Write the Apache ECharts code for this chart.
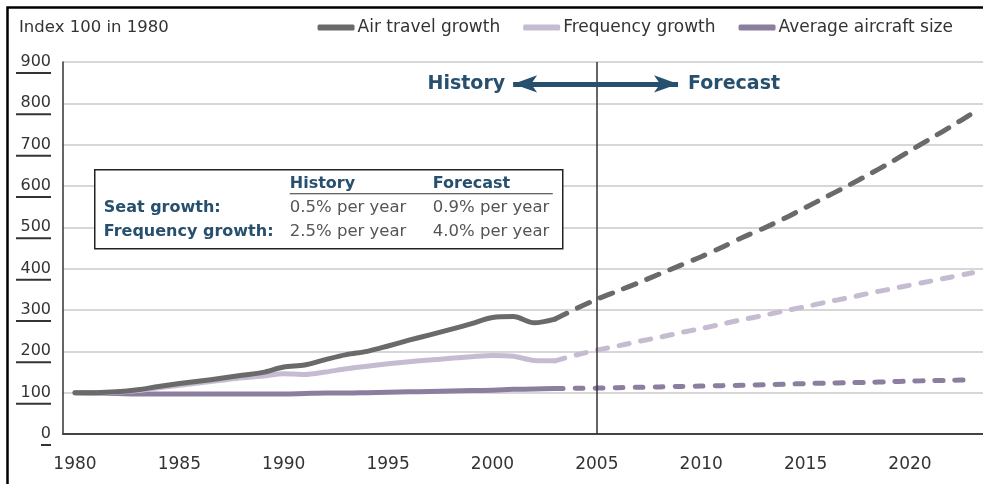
<!DOCTYPE html>
<html>
<head>
<meta charset="utf-8">
<script src="https://cdn.jsdelivr.net/npm/echarts@6/dist/echarts.min.js"></script>
<style>
  html, body { margin: 0; padding: 0; background: #fff; }
  #chart { width: 983px; height: 484px; }
</style>
</head>
<body>
<div id="chart"></div>
<script>
// history, 1980-2003 (index 100 in 1980)
const histYears = [1980, 1981, 1982, 1983, 1984, 1985, 1986, 1987, 1988, 1989, 1990, 1991,
  1992, 1993, 1994, 1995, 1996, 1997, 1998, 1999, 2000, 2001, 2002, 2003]
const airHist = [100, 100, 102, 107, 115, 122, 128, 135, 142, 149, 162, 167,
  180, 192, 200, 213, 227, 240, 253, 267, 282, 284, 269, 278]
const freqHist = [100, 100, 101, 105, 112, 118, 124, 130, 136, 140, 146, 144,
  150, 158, 164, 170, 175, 179, 183, 187, 190, 188, 178, 177]
const sizeHist = [100, 99, 98, 97, 97, 97, 97, 97, 97, 97, 97, 98,
  99, 99, 100, 101, 102, 103, 104, 105, 106, 108, 109, 110]

// forecast, 2003-2023
const fcYears = [2003, 2004, 2005, 2006, 2007, 2008, 2009, 2010, 2011, 2012, 2013,
  2014, 2015, 2016, 2017, 2018, 2019, 2020, 2021, 2022, 2023]
const airFcst = [278, 303, 326, 346, 366, 387, 408, 429, 452, 476, 498,
  522, 548, 574, 600, 627, 655, 685, 715, 745, 776]
const freqFcst = [177, 191, 203, 213, 224, 234, 245, 255, 266, 277, 287,
  298, 308, 319, 329, 340, 350, 360, 370, 380, 390]
const sizeFcst = [110, 110.5, 111, 112, 113, 114, 115, 116, 117, 118, 119,
  120.5, 122, 123, 124, 125, 126.5, 128, 129, 130, 131]

const xTicks = [1980, 1985, 1990, 1995, 2000, 2005, 2010, 2015, 2020]
const tableHead = ['History', 'Forecast']
const tableRows = [
  ['Seat growth:', '0.5% per year', '0.9% per year'],
  ['Frequency growth:', '2.5% per year', '4.0% per year']
]

const names = ['Air travel growth', 'Frequency growth', 'Average aircraft size']
const colors = ['#6a6a6a', '#c6bcd1', '#8b7e9f']
const blue = '#274f6e'
const font = 'DejaVu Sans'

const pairs = (xs, ys) => xs.map((x, i) => [x, ys[i]])

const lineSeries = (idx, xs, ys, dash) => ({
  name: names[idx],
  type: 'line',
  data: pairs(xs, ys),
  showSymbol: false,
  smooth: 0.3,
  color: colors[idx],
  lineStyle: { width: 5, cap: 'round', join: 'round', type: dash || 'solid' }
})

const chart = echarts.init(document.getElementById('chart'))

// inset table, drawn as plain graphic text
const tableEls = [{
  type: 'rect', z: 100, shape: { x: 0, y: 0, width: 468, height: 79 },
  style: { fill: '#fff', stroke: '#222', lineWidth: 1.5 }
}]
tableHead.forEach((h, i) => {
  tableEls.push({
    type: 'text', z: 101, x: [195, 338][i], y: 14,
    style: { text: h, font: 'bold 16px "DejaVu Sans"', fill: blue, verticalAlign: 'middle' }
  })
})
tableEls.push({
  type: 'line', z: 101, shape: { x1: 195, y1: 24, x2: 458, y2: 24 },
  style: { stroke: '#333', lineWidth: 1.2 }
})
tableRows.forEach((row, r) => {
  row.forEach((cell, c) => {
    tableEls.push({
      type: 'text', z: 101, x: [9, 195, 338][c], y: 38 + r * 24,
      style: {
        text: cell,
        font: (c === 0 ? 'bold 16px' : '16.5px') + ' "DejaVu Sans"',
        fill: c === 0 ? blue : '#555',
        verticalAlign: 'middle'
      }
    })
  })
})

const option = {
  animation: false,
  textStyle: { fontFamily: font },
  title: {
    text: 'Index 100 in 1980',
    left: 19, top: 19, padding: 0,
    textStyle: { fontSize: 16.5, fontWeight: 'normal', color: '#333' }
  },
  legend: {
    data: names,
    right: 30, top: 19, padding: 0,
    icon: 'roundRect', itemWidth: 37, itemHeight: 6, itemGap: 23,
    textStyle: { fontSize: 17, color: '#333', padding: [0, 0, 0, -2] }
  },
  grid: { left: 63, right: 0, top: 62, bottom: 50 },
  xAxis: {
    type: 'value',
    min: 1979.425, max: 2023.5,
    axisLine: { lineStyle: { color: '#444', width: 2 } },
    axisTick: { show: false },
    splitLine: { show: false },
    axisLabel: {
      customValues: xTicks,
      margin: 22, fontSize: 17, color: '#333',
      formatter: v => String(v)
    }
  },
  yAxis: {
    type: 'value',
    min: 0, max: 900, interval: 100,
    axisLine: { show: true, lineStyle: { color: '#333', width: 1.5 } },
    axisTick: { show: false },
    splitLine: { lineStyle: { color: '#cacaca', width: 1.5 } },
    axisLabel: {
      margin: 12, color: '#333', fontSize: 16, align: 'right',
      padding: [2, 0, 0, 0],
      formatter: v => '{t|' + v + '}\n{' + (v === 0 ? 'u1' : 'u3') + '|}',
      rich: {
        t: { fontSize: 16, lineHeight: 20, color: '#333', width: 35, align: 'right' },
        u1: { width: 10, height: 2, backgroundColor: '#333', align: 'right' },
        u3: { width: 35, height: 2, backgroundColor: '#333', align: 'right' }
      }
    }
  },
  graphic: [
    {
      type: 'rect', left: 5, top: 5, z: -10, silent: true,
      shape: { width: 1010, height: 520 },
      style: { fill: 'none', stroke: '#000', lineWidth: 2.5 }
    },
    {
      type: 'group', left: 94, top: 169, z: 100,
      children: tableEls
    }
  ],
  series: [
    lineSeries(2, histYears, sizeHist),
    lineSeries(2, fcYears, sizeFcst, [8, 12]),
    lineSeries(1, histYears, freqHist),
    lineSeries(1, fcYears, freqFcst, [10, 12]),
    Object.assign(lineSeries(0, histYears, airHist), {
      markLine: {
        silent: true,
        animation: false,
        label: { show: false },
        data: [
          [
            { coord: [2005, 0], symbol: 'none' },
            { coord: [2005, 900], symbol: 'none', lineStyle: { color: '#333', width: 1.5, type: 'solid' } }
          ],
          [
            { coord: [2005, 847], symbol: 'none' },
            {
              coord: [2000.99, 847], symbol: 'arrow', symbolSize: [13, 24],
              lineStyle: { color: blue, width: 5, type: 'solid' },
              label: {
                show: true, position: 'end', distance: 8, formatter: 'History',
                color: blue, fontSize: 19, fontWeight: 'bold', fontFamily: font
              }
            }
          ],
          [
            { coord: [2005, 847], symbol: 'none' },
            {
              coord: [2008.89, 847], symbol: 'arrow', symbolSize: [13, 24],
              lineStyle: { color: blue, width: 5, type: 'solid' },
              label: {
                show: true, position: 'end', distance: 10, formatter: 'Forecast',
                color: blue, fontSize: 19, fontWeight: 'bold', fontFamily: font
              }
            }
          ]
        ]
      }
    }),
    lineSeries(0, fcYears, airFcst, [13, 12])
  ]
}

option && chart.setOption(option)
</script>
</body>
</html>
